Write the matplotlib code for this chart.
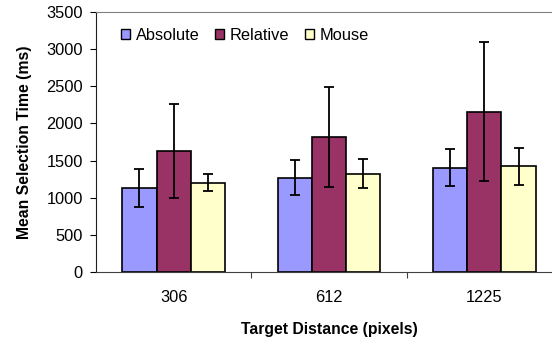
import matplotlib.pyplot as plt
import numpy as np
from matplotlib.patches import Patch

plt.rcParams['font.family'] = ['Liberation Sans', 'DejaVu Sans']

distances = ["306", "612", "1225"]
series = ["Absolute", "Relative", "Mouse"]
means = {
    "Absolute": [1135, 1270, 1405],
    "Relative": [1630, 1815, 2155],
    "Mouse": [1200, 1323, 1422],
}
errors = {
    "Absolute": [258, 234, 254],
    "Relative": [635, 670, 935],
    "Mouse": [115, 193, 247],
}
colors = {"Absolute": "#9999FF", "Relative": "#993366", "Mouse": "#FFFFCC"}

fig = plt.figure(figsize=(5.52, 3.41), dpi=100)
# plot area runs a little past the right edge of the picture, like the original
ax = fig.add_axes([96 / 552, (341 - 272) / 341, (562 - 96) / 552, 260 / 341])

x = np.arange(len(distances))
width = 0.22
for i, name in enumerate(series):
    ax.bar(x + (i - 1) * width, means[name], width, color=colors[name],
           edgecolor="black", linewidth=1.2, zorder=2)
    ax.errorbar(x + (i - 1) * width, means[name], yerr=errors[name], fmt="none",
                ecolor="black", elinewidth=1.3, capsize=3.8, capthick=1.3, zorder=3)

ax.set_xlim(-0.5, 2.5)
ax.set_ylim(0, 3500)
ax.set_yticks(np.arange(0, 3501, 500))
ax.tick_params(axis="y", labelsize=11.8, length=4.5, width=0.8, pad=5)

ax.set_xticks(x)
ax.set_xticklabels(distances, fontsize=11.8)
ax.tick_params(axis="x", length=0, pad=13)
ax.set_xticks([0.5, 1.5], minor=True)
ax.tick_params(axis="x", which="minor", length=4, width=0.8, color="#404040")

for side in ["top", "right"]:
    ax.spines[side].set_color("#808080")
ax.spines["left"].set_color("#202020")
ax.spines["bottom"].set_color("#404040")

ax.set_ylabel("Mean Selection Time (ms)", fontsize=11.3, fontweight="bold", labelpad=10)
ax.set_xlabel("Target Distance (pixels)", fontsize=11.3, fontweight="bold", labelpad=12)

handles = [Patch(facecolor=colors[n], edgecolor="black", linewidth=1) for n in series]
ax.legend(handles, series, loc="upper left", bbox_to_anchor=(0.022, 0.995), ncol=3,
          frameon=False, fontsize=11.8, handlelength=0.55, handleheight=0.55,
          handletextpad=0.35, columnspacing=0.95)

fig.savefig("out.png", dpi=100)
